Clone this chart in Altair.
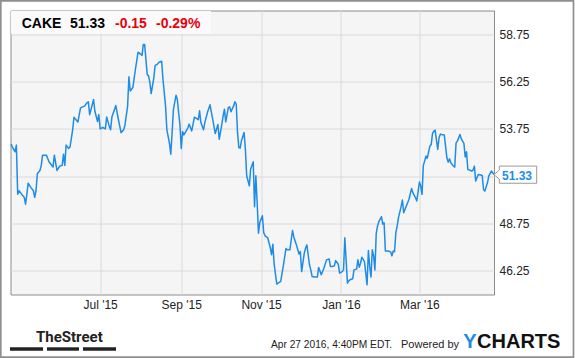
import altair as alt
import pandas as pd

# ---- data ----
dates = [
    "2015-04-24", "2015-04-25", "2015-04-27", "2015-04-28", "2015-04-29", "2015-04-30",
    "2015-05-02", "2015-05-04", "2015-05-05", "2015-05-06", "2015-05-07", "2015-05-09",
    "2015-05-11", "2015-05-12", "2015-05-13", "2015-05-14", "2015-05-16", "2015-05-17",
    "2015-05-18", "2015-05-21", "2015-05-23", "2015-05-26", "2015-05-27", "2015-05-29",
    "2015-05-31", "2015-06-02", "2015-06-03", "2015-06-04", "2015-06-05", "2015-06-07",
    "2015-06-08", "2015-06-10", "2015-06-11", "2015-06-14", "2015-06-16", "2015-06-19",
    "2015-06-21", "2015-06-22", "2015-06-23", "2015-06-26", "2015-06-27", "2015-06-29",
    "2015-06-30", "2015-07-01", "2015-07-03", "2015-07-05", "2015-07-06", "2015-07-08",
    "2015-07-09", "2015-07-10", "2015-07-13", "2015-07-15", "2015-07-17", "2015-07-19",
    "2015-07-20", "2015-07-22", "2015-07-23", "2015-07-24", "2015-07-25", "2015-07-26",
    "2015-07-28", "2015-07-30", "2015-07-31", "2015-08-02", "2015-08-03", "2015-08-04",
    "2015-08-06", "2015-08-07", "2015-08-08", "2015-08-09", "2015-08-11", "2015-08-12",
    "2015-08-14", "2015-08-15", "2015-08-17", "2015-08-18", "2015-08-20", "2015-08-21",
    "2015-08-23", "2015-08-24", "2015-08-25", "2015-08-26", "2015-08-28", "2015-08-29",
    "2015-08-30", "2015-08-31", "2015-09-01", "2015-09-02", "2015-09-03", "2015-09-04",
    "2015-09-06", "2015-09-07", "2015-09-09", "2015-09-11", "2015-09-13", "2015-09-14",
    "2015-09-15", "2015-09-16", "2015-09-18", "2015-09-19", "2015-09-21", "2015-09-23",
    "2015-09-25", "2015-09-27", "2015-09-29", "2015-09-30", "2015-10-02", "2015-10-03",
    "2015-10-04", "2015-10-05", "2015-10-07", "2015-10-08", "2015-10-09", "2015-10-11",
    "2015-10-12", "2015-10-13", "2015-10-14", "2015-10-15", "2015-10-16", "2015-10-17",
    "2015-10-19", "2015-10-20", "2015-10-21", "2015-10-23", "2015-10-24", "2015-10-26",
    "2015-10-27", "2015-10-28", "2015-10-29", "2015-10-30", "2015-10-31", "2015-11-02",
    "2015-11-03", "2015-11-04", "2015-11-06", "2015-11-08", "2015-11-09", "2015-11-10",
    "2015-11-11", "2015-11-13", "2015-11-14", "2015-11-16", "2015-11-18", "2015-11-20",
    "2015-11-21", "2015-11-23", "2015-11-25", "2015-11-26", "2015-11-28", "2015-11-30",
    "2015-12-01", "2015-12-02", "2015-12-04", "2015-12-05", "2015-12-06", "2015-12-08",
    "2015-12-09", "2015-12-10", "2015-12-12", "2015-12-14", "2015-12-15", "2015-12-17",
    "2015-12-19", "2015-12-21", "2015-12-23", "2015-12-24", "2015-12-25", "2015-12-27",
    "2015-12-28", "2015-12-30", "2015-12-31", "2016-01-02", "2016-01-03", "2016-01-04",
    "2016-01-06", "2016-01-07", "2016-01-08", "2016-01-10", "2016-01-11", "2016-01-13",
    "2016-01-14", "2016-01-15", "2016-01-16", "2016-01-17", "2016-01-19", "2016-01-20",
    "2016-01-21", "2016-01-22", "2016-01-23", "2016-01-24", "2016-01-25", "2016-01-26",
    "2016-01-27", "2016-01-28", "2016-01-29", "2016-01-30", "2016-02-01", "2016-02-02",
    "2016-02-03", "2016-02-04", "2016-02-06", "2016-02-08", "2016-02-09", "2016-02-10",
    "2016-02-11", "2016-02-12", "2016-02-13", "2016-02-14", "2016-02-16", "2016-02-17",
    "2016-02-18", "2016-02-20", "2016-02-22", "2016-02-24", "2016-02-25", "2016-02-27",
    "2016-02-28", "2016-03-01", "2016-03-02", "2016-03-03", "2016-03-04", "2016-03-05",
    "2016-03-06", "2016-03-07", "2016-03-09", "2016-03-10", "2016-03-11", "2016-03-12",
    "2016-03-13", "2016-03-15", "2016-03-16", "2016-03-17", "2016-03-18", "2016-03-20",
    "2016-03-22", "2016-03-23", "2016-03-24", "2016-03-25", "2016-03-27", "2016-03-28",
    "2016-03-29", "2016-03-30", "2016-04-01", "2016-04-02", "2016-04-04", "2016-04-05",
    "2016-04-06", "2016-04-07", "2016-04-10", "2016-04-11", "2016-04-12", "2016-04-13",
    "2016-04-15", "2016-04-17", "2016-04-18", "2016-04-19", "2016-04-20", "2016-04-22",
    "2016-04-23", "2016-04-25", "2016-04-27",
]
prices = [
    52.95, 52.77, 52.54, 52.89, 50.30, 50.48,
    50.30, 50.13, 49.77, 50.30, 50.88, 50.66,
    50.48, 50.13, 50.48, 51.38, 51.55, 51.82,
    52.36, 52.36, 52.00, 51.73, 52.36, 51.55,
    51.77, 51.82, 52.41, 51.82, 52.89, 52.71,
    52.80, 53.70, 54.36, 54.11, 54.86, 54.95,
    55.13, 55.18, 54.50, 55.30, 54.68, 54.14,
    54.50, 53.75, 53.82, 53.75, 54.38, 53.88,
    53.70, 54.38, 54.98, 54.23, 53.55, 53.70,
    53.96, 54.95, 56.50, 55.75, 55.84, 55.93,
    56.91, 57.80, 57.75, 57.63, 58.21, 58.21,
    56.61, 56.55, 56.20, 55.61, 56.43, 57.09,
    57.18, 57.27, 57.32, 56.38, 54.95, 53.70,
    52.98, 52.41, 53.52, 54.77, 55.52, 55.30,
    54.59, 53.96, 52.71, 53.61, 53.43, 53.55,
    53.79, 54.00, 53.64, 54.36, 54.29, 54.23,
    54.70, 54.08, 53.70, 54.08, 54.61, 55.02,
    54.26, 53.50, 53.98, 53.20, 53.98, 54.44,
    54.79, 54.12, 54.88, 54.91, 54.65, 54.96,
    55.18, 55.05, 53.56, 52.76, 52.73, 53.12,
    53.56, 52.68, 51.27, 50.74, 51.62, 52.01,
    49.63, 51.27, 49.86, 48.24, 48.80, 49.16,
    48.27, 48.10, 48.01, 47.48, 47.10, 47.66,
    46.60, 45.55, 45.60, 45.69, 46.51, 47.43,
    47.36, 47.36, 48.38, 48.04, 47.62, 47.14,
    47.27, 46.21, 47.18, 47.44, 47.62, 46.57,
    46.30, 45.95, 45.92, 45.92, 46.43, 46.04,
    46.39, 46.83, 46.88, 46.48, 46.48, 46.51,
    46.79, 46.60, 46.13, 46.21, 46.30, 48.00,
    45.60, 45.72, 45.78, 45.83, 46.30, 46.34,
    46.83, 46.44, 46.65, 46.97, 46.74, 46.13,
    45.51, 47.32, 46.48, 45.92, 47.36, 47.04,
    46.30, 48.23, 48.62, 48.85, 49.11, 48.72,
    48.79, 47.30, 47.30, 47.25, 47.04, 47.30,
    47.26, 48.27, 48.62, 49.06, 49.64, 49.99,
    49.32, 49.67, 50.02, 50.60, 50.38, 50.11,
    49.94, 50.94, 50.73, 50.29, 51.82, 52.05,
    52.31, 52.19, 52.84, 52.92, 53.50, 53.63,
    53.68, 52.66, 53.28, 53.47, 53.45, 53.43,
    52.22, 51.99, 52.17, 51.96, 51.78, 51.73,
    53.01, 53.10, 53.45, 53.22, 52.98, 52.26,
    52.54, 51.61, 51.52, 51.57, 51.78, 50.99,
    51.34, 51.31, 51.29, 50.55, 50.46, 50.90,
    51.25, 51.52, 51.33,
]
header_texts = ["CAKE", "51.33", "-0.15", "-0.29%"]
y_ticks = [46.25, 48.75, 51.25, 53.75, 56.25, 58.75]
footer_texts = ["Apr 27 2016, 4:40PM EDT.", "Powered by"]
brand_left = "TheStreet"
brand_right = ["Y", "CHARTS"]

df = pd.DataFrame({"date": pd.to_datetime(dates), "price": prices})
last_df = df.tail(1)
one = pd.DataFrame({"k": [0]})

LINE = "#1e8ce6"
FONT = "Liberation Sans, Arial, sans-serif"

x_enc = alt.X(
    "date:T",
    title=None,
    scale=alt.Scale(domain=[alt.DateTime(year=2015, month=4, date=23, hours=12),
                            alt.DateTime(year=2016, month=4, date=27)]),
    axis=alt.Axis(
        values=[alt.DateTime(year=2015, month=7, date=1),
                alt.DateTime(year=2015, month=9, date=1),
                alt.DateTime(year=2015, month=11, date=1),
                alt.DateTime(year=2016, month=1, date=1),
                alt.DateTime(year=2016, month=3, date=1)],
        format="%b '%y", tickSize=0, domain=False, labelPadding=5,
        labelFontSize=12, labelFont=FONT, labelColor="#222",
        gridColor="#dadada", gridWidth=1,
    ),
)
y_enc = alt.Y(
    "price:Q",
    title=None,
    scale=alt.Scale(domain=[45, 60], nice=False, zero=False),
    axis=alt.Axis(
        orient="right", values=y_ticks, tickSize=0, domain=False, labelPadding=5,
        labelExpr="datum.value == 51.25 ? '' : format(datum.value, '.2f')",
        labelFontSize=12, labelFont=FONT, labelColor="#222",
        gridColor="#dadada", gridWidth=1,
    ),
)

line = alt.Chart(df).mark_line(color=LINE, strokeWidth=1.5, strokeJoin="round").encode(x=x_enc, y=y_enc)

# header box with ticker and quote
hdr_box = alt.Chart(one).mark_rect(fill="#fafafa").encode(
    x=alt.value(0.5), x2=alt.value(200.5), y=alt.value(0.5), y2=alt.value(23.2))
hdr_pos = [11.2, 59.5, 104.5, 145.5]
hdr_col = ["#000000", "#000000", "#e8000b", "#e8000b"]
hdr = [
    alt.Chart(one).mark_text(text=t, align="left", baseline="alphabetic", fontSize=14,
                             fontWeight="bold", font=FONT, color=c).encode(
        x=alt.value(px), y=alt.value(17.8))
    for t, px, c in zip(header_texts, hdr_pos, hdr_col)
]

# last value flag
flag_path = "M0,0 L5.3,-4.6 L5.3,-8.6 L42.7,-8.6 L42.7,8.6 L5.3,8.6 L5.3,4.6 Z"
flag = alt.Chart(last_df).mark_point(shape=flag_path, size=4, filled=True, fill="white",
                                     stroke="#999999", strokeWidth=1, opacity=1).encode(x=x_enc, y=y_enc)
flag_text = alt.Chart(last_df).mark_text(align="left", baseline="alphabetic", dx=8, dy=5.6,
                                         fontSize=12, fontWeight="bold", font=FONT,
                                         color=LINE).encode(
    x=x_enc, y=y_enc, text=alt.Text("price:Q", format=".2f"))

# outer frame
frame = alt.Chart(one).mark_rect(fillOpacity=0, stroke="#8f8f8f", strokeWidth=1.7).encode(
    x=alt.value(-9.7), x2=alt.value(563.0), y=alt.value(-9.7), y2=alt.value(346.6))

# footer
street = alt.Chart(one).mark_text(text=brand_left, align="left", baseline="alphabetic",
                                  fontSize=15, fontWeight="bold",
                                  font="Roboto, sans-serif",
                                  color="#222").encode(x=alt.value(25.5), y=alt.value(331.2))
bars = [
    alt.Chart(one).mark_rect(fill="#222").encode(
        x=alt.value(a), x2=alt.value(b), y=alt.value(336.8), y2=alt.value(340.2))
    for a, b in [(-0.5, 32.5), (36.5, 68.5), (72.5, 105.5)]
]
foot = [
    alt.Chart(one).mark_text(text=t, align="left", baseline="alphabetic",
                             fontSize=fs, font=FONT, color="#222").encode(
        x=alt.value(px), y=alt.value(337.2))
    for t, px, fs in zip(footer_texts, [260.5, 390.5], [10.2, 11])
]
yc1 = alt.Chart(one).mark_text(text=brand_right[0], align="left", baseline="alphabetic",
                               fontSize=20, fontWeight="bold", font=FONT, color="#1e8ce6").encode(
    x=alt.value(452.8), y=alt.value(337.8))
yc2 = alt.Chart(one).mark_text(text=brand_right[1], align="left", baseline="alphabetic",
                               fontSize=20, fontWeight="bold", font=FONT, color="#111").encode(
    x=alt.value(466.6), y=alt.value(337.8))

chart = alt.layer(
    line, hdr_box, *hdr, flag, flag_text, frame, street, *bars, *foot, yc1, yc2
).properties(
    width=483.5, height=284,
    padding={"left": 10.5, "top": 10.5, "right": 81, "bottom": 63.5},
    autosize=alt.AutoSizeParams(type="none"),
    background="white",
).configure_view(
    fill="#f5f5f5", stroke="#8c8c8c", strokeWidth=1,
)

chart.save("out.html", embed_options={"renderer": "svg", "actions": False})
